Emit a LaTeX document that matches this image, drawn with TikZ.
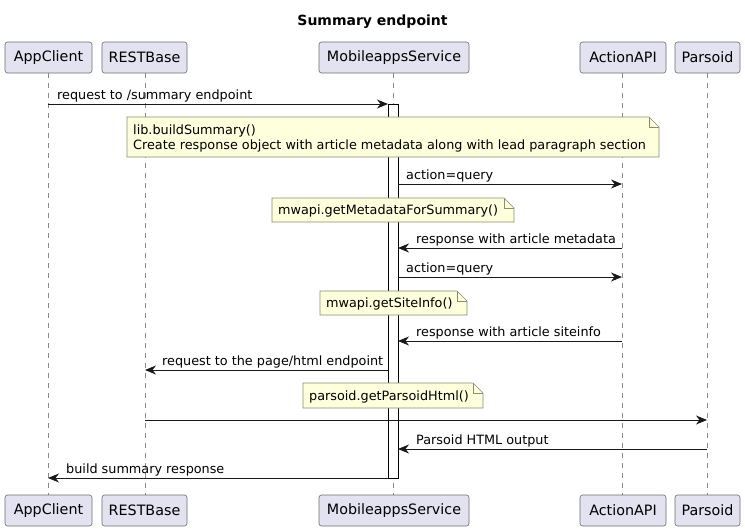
\documentclass[tikz,border=0pt]{standalone}
\usepackage{fontspec}
\setmainfont{DejaVu Sans}
\usetikzlibrary{arrows.meta}
\definecolor{partfill}{HTML}{E2E2F0}
\definecolor{partdraw}{HTML}{6E6E6E}
\definecolor{notefill}{HTML}{FEFFDD}
\definecolor{notedraw}{HTML}{8C8C6E}
\definecolor{lifeline}{HTML}{8A8A8A}
\tikzset{
  part/.style={draw=partdraw, fill=partfill, rounded corners=2.5pt, line width=0.6pt,
    minimum height=31pt, inner xsep=4pt, font=\fontsize{14.3}{16}\selectfont, anchor=center},
  msg/.style={draw=black!90, line width=0.9pt, -{Stealth[length=11pt,width=9pt,inset=3.5pt]}},
  msglabel/.style={font=\fontsize{12.8}{15}\selectfont, anchor=base west, inner sep=0pt},
  notetext/.style={font=\fontsize{12.8}{15}\selectfont, anchor=base west, inner sep=0pt, align=left},
  life/.style={draw=lifeline, dash pattern=on 5pt off 5pt, line width=0.6pt},
  act/.style={draw=black, fill=white, line width=0.8pt},
  notebox/.style={draw=notedraw, fill=notefill, line width=0.6pt},
}
\newcommand{\notefold}[4]{% x1,y1,x2,y2
  \filldraw[notebox] (#1,#2) -- (#3-10,#2) -- (#3,#2+10) -- (#3,#4) -- (#1,#4) -- cycle;
  \draw[notebox,fill=none] (#3-10,#2) -- (#3-10,#2+10) -- (#3,#2+10);
}
\begin{document}
\begin{tikzpicture}[x=1pt,y=-1pt]
\useasboundingbox[fill=white] (0,0) rectangle (745,530);
\node[font=\bfseries\fontsize{14}{16}\selectfont] (title) at (372.5,22) {Summary endpoint};
% lifelines
\foreach \n/\x in {ac/48,rb/145,ms/393,aa/622,pa/707}{
  \coordinate (\n top) at (\x,73);
  \coordinate (\n bot) at (\x,495);
  \draw[life] (\n top) -- (\n bot);
}
% participants
\foreach \n/\x/\w/\t in {ac/48.5/87/AppClient,rb/144.5/85/RESTBase,ms/394/150/MobileappsService,aa/623/86/ActionAPI,pa/707.5/65/Parsoid}{
  \node[part, minimum width=\w pt] (\n T) at (\x,57.5) {\t};
  \node[part, minimum width=\w pt] (\n B) at (\x,510.5) {\t};
}
% activation bar
\filldraw[act] (388,104) rectangle (398,478);
% coordinates for messages
\coordinate (m1a) at (48,104);  \coordinate (m1b) at (388,104);
\coordinate (m3a) at (398,184); \coordinate (m3b) at (622,184);
\coordinate (m5a) at (622,248); \coordinate (m5b) at (398,248);
\coordinate (m6a) at (398,277); \coordinate (m6b) at (622,277);
\coordinate (m8a) at (622,341); \coordinate (m8b) at (398,341);
\coordinate (m9a) at (388,370); \coordinate (m9b) at (145,370);
\coordinate (m11a) at (145,420); \coordinate (m11b) at (707,420);
\coordinate (m12a) at (707,449); \coordinate (m12b) at (398,449);
\coordinate (m13a) at (388,478); \coordinate (m13b) at (48,478);
\draw[msg] (m1a) -- (m1b);
\node[msglabel] (l1) at (57,99) {request to /summary endpoint};
% note 1
\notefold{127}{117}{659}{157}
\node[notetext] (n1) at (133,134.5) {lib.buildSummary()};
\node[notetext] (n1b) at (133,149.5) {Create response object with article metadata along with lead paragraph section};
\draw[msg] (m3a) -- (m3b);
\node[msglabel] (l3) at (406,179) {action=query};
\notefold{272}{198}{514}{222}
\node[notetext] (n2) at (278,214.5) {mwapi.getMetadataForSummary()};
\draw[msg] (m5a) -- (m5b);
\node[msglabel] (l5) at (416,243) {response with article metadata};
\draw[msg] (m6a) -- (m6b);
\node[msglabel] (l6) at (406,272) {action=query};
\notefold{320}{291}{467}{315}
\node[notetext] (n3) at (326,307.5) {mwapi.getSiteInfo()};
\draw[msg] (m8a) -- (m8b);
\node[msglabel] (l8) at (416,336) {response with article siteinfo};
\draw[msg] (m9a) -- (m9b);
\node[msglabel] (l9) at (162,365) {request to the page/html endpoint};
\notefold{303}{383}{483}{408}
\node[notetext] (n4) at (309,400) {parsoid.getParsoidHtml()};
\draw[msg] (m11a) -- (m11b);
\draw[msg] (m12a) -- (m12b);
\node[msglabel] (l12) at (416,444) {Parsoid HTML output};
\draw[msg] (m13a) -- (m13b);
\node[msglabel] (l13) at (66,473) {build summary response};
\end{tikzpicture}
\end{document}
